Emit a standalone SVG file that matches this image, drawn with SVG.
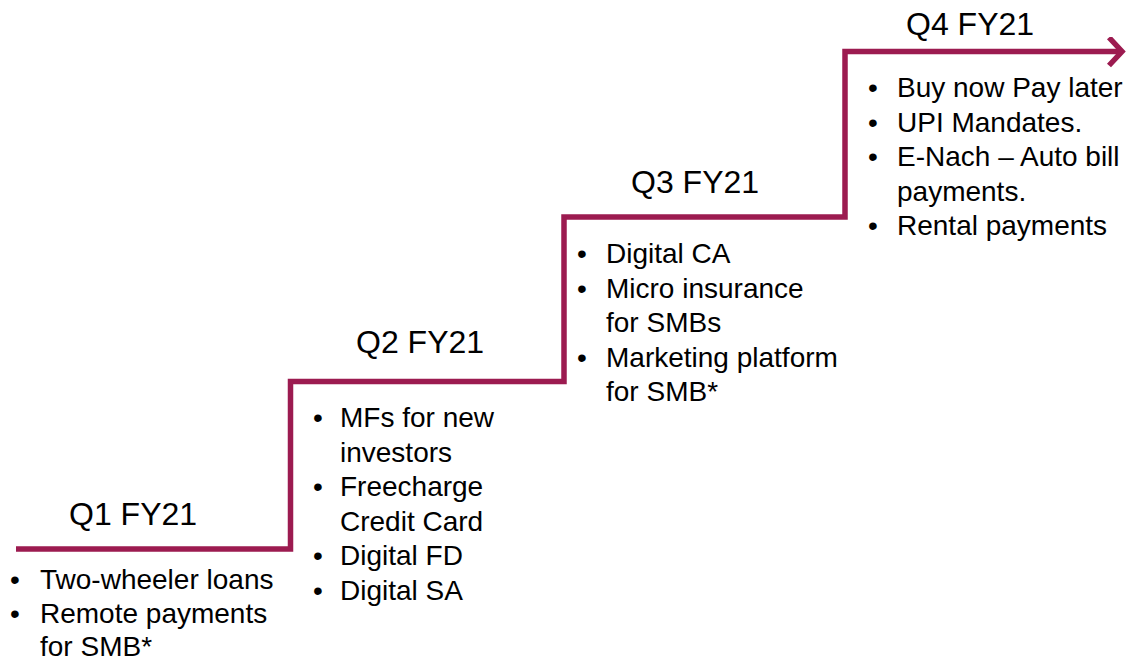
<svg xmlns="http://www.w3.org/2000/svg" width="1126" height="660" viewBox="0 0 1126 660">
<style>
.step{fill:none;stroke:#9C1B50;stroke-width:5.5;stroke-linejoin:miter;stroke-linecap:butt}
.title{font-family:"Liberation Sans",Arial,sans-serif;font-size:32px;fill:#000}
.item{font-family:"Liberation Sans",Arial,sans-serif;font-size:28px;fill:#000}
.bul{font-family:"Liberation Sans",Arial,sans-serif;font-size:28px;fill:#000;text-anchor:middle}
</style>
<defs>
<marker id="chev" markerUnits="userSpaceOnUse" markerWidth="30" markerHeight="40" refX="16" refY="15" orient="auto" viewBox="0 0 30 40">
<path d="M3 1 L16 15 L3 29" fill="none" stroke="#9C1B50" stroke-width="5.5" stroke-linejoin="miter"/>
</marker>
</defs>
<rect width="1126" height="660" fill="#fff"/>
<g id="connectors">
<path class="step" d="M16 549 H290.5 V381.5 H564 V217 H845 V51.5 H1122" marker-end="url(#chev)"/>
</g>
<g id="q1">
<text class="title" x="69" y="525">Q1 FY21</text>
<text class="bul" x="15" y="589">•</text>
<text class="item" x="40" y="589">Two-wheeler loans</text>
<text class="bul" x="15" y="623">•</text>
<text class="item" x="40" y="623">Remote payments</text>
<text class="item" x="40" y="656">for SMB*</text>
</g>
<g id="q2">
<text class="title" x="356" y="353">Q2 FY21</text>
<text class="bul" x="318" y="427">•</text>
<text class="item" x="340" y="427">MFs for new</text>
<text class="item" x="340" y="461.5">investors</text>
<text class="bul" x="318" y="496">•</text>
<text class="item" x="340" y="496">Freecharge</text>
<text class="item" x="340" y="530.5">Credit Card</text>
<text class="bul" x="318" y="565">•</text>
<text class="item" x="340" y="565">Digital FD</text>
<text class="bul" x="318" y="599.5">•</text>
<text class="item" x="340" y="599.5">Digital SA</text>
</g>
<g id="q3">
<text class="title" x="631" y="193">Q3 FY21</text>
<text class="bul" x="582" y="263">•</text>
<text class="item" x="606" y="263">Digital CA</text>
<text class="bul" x="582" y="297.5">•</text>
<text class="item" x="606" y="297.5">Micro insurance</text>
<text class="item" x="606" y="332">for SMBs</text>
<text class="bul" x="582" y="366.5">•</text>
<text class="item" x="606" y="366.5">Marketing platform</text>
<text class="item" x="606" y="401">for SMB*</text>
</g>
<g id="q4">
<text class="title" x="906" y="35">Q4 FY21</text>
<text class="bul" x="873" y="97">•</text>
<text class="item" x="897" y="97">Buy now Pay later</text>
<text class="bul" x="873" y="131.5">•</text>
<text class="item" x="897" y="131.5">UPI Mandates.</text>
<text class="bul" x="873" y="166">•</text>
<text class="item" x="897" y="166">E-Nach – Auto bill</text>
<text class="item" x="897" y="200.5">payments.</text>
<text class="bul" x="873" y="235">•</text>
<text class="item" x="897" y="235">Rental payments</text>
</g>
</svg>
